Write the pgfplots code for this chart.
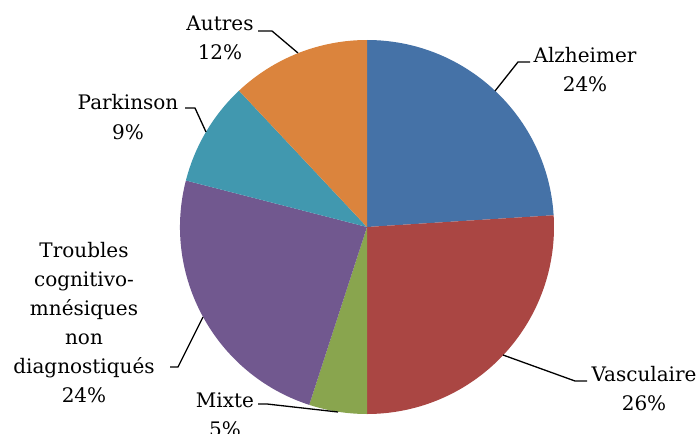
\documentclass[border=0pt]{standalone}
\usepackage{pgfplots}
\pgfplotsset{compat=1.18}
\usepackage{fontspec}
\setmainfont{DejaVu Serif}
\definecolor{alz}{HTML}{4572A7}
\definecolor{vas}{HTML}{AA4643}
\definecolor{mix}{HTML}{89A54E}
\definecolor{tro}{HTML}{71588F}
\definecolor{par}{HTML}{4198AF}
\definecolor{aut}{HTML}{DB843D}
\begin{document}
\begin{tikzpicture}
\begin{axis}[
  scale only axis, width=700pt, height=433pt,
  xmin=0, xmax=700, ymin=0, ymax=433, y dir=reverse,
  hide axis, clip=false]
\pgfplotsextra{
  \foreach \v/\c [remember=\e as \s (initially 90), evaluate=\v as \e using {\s-3.6*\v}] in {24/alz,26/vas,5/mix,24/tro,9/par,12/aut} {
    \fill[\c] (axis cs:367,227) -- ++(\s:187pt) arc[start angle=\s, end angle=\e, radius=187pt] -- cycle;
  }
}
\draw[line width=1.3pt] (axis cs:495,91) -- (axis cs:518,62) -- (axis cs:530,62);
\draw[line width=1.3pt] (axis cs:503,355) -- (axis cs:575,381) -- (axis cs:587,381);
\draw[line width=1.3pt] (axis cs:338,412) -- (axis cs:267,404) -- (axis cs:258,404);
\draw[line width=1.3pt] (axis cs:203,317) -- (axis cs:178,367) -- (axis cs:170,367);
\draw[line width=1.3pt] (axis cs:206,132) -- (axis cs:195,108) -- (axis cs:185,108);
\draw[line width=1.3pt] (axis cs:298,53) -- (axis cs:272,31) -- (axis cs:258,31);
\tikzset{lab/.style={anchor=base, align=center, inner sep=0pt, font=\fontsize{20}{29}\selectfont}}
\node[lab] at (axis cs:585,92) {Alzheimer\\24\%};
\node[lab] at (axis cs:644,410) {Vasculaire\\26\%};
\node[lab] at (axis cs:225,436) {Mixte\\5\%};
\node[lab] at (axis cs:84,402) {Troubles\\cognitivo-\\mnésiques\\non\\diagnostiqués\\24\%};
\node[lab] at (axis cs:128,139) {Parkinson\\9\%};
\node[lab] at (axis cs:220,60) {Autres\\12\%};
\end{axis}
\pgfresetboundingbox
\useasboundingbox (0,0) rectangle (700pt,433pt);
\end{tikzpicture}
\end{document}
